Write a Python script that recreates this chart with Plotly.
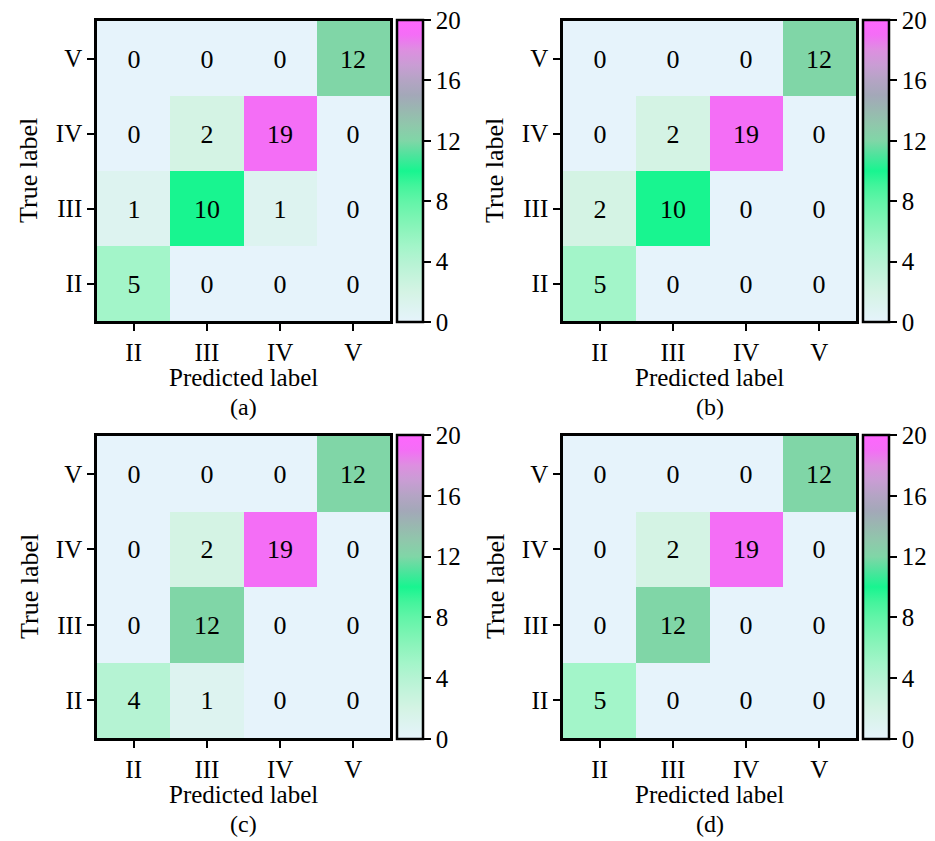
import plotly.graph_objects as go

classes = ["II", "III", "IV", "V"]
# rows: true label II, III, IV, V (bottom to top); columns: predicted II..V
cm_a = [[5, 0, 0, 0], [1, 10, 1, 0], [0, 2, 19, 0], [0, 0, 0, 12]]
cm_b = [[5, 0, 0, 0], [2, 10, 0, 0], [0, 2, 19, 0], [0, 0, 0, 12]]
cm_c = [[4, 1, 0, 0], [0, 12, 0, 0], [0, 2, 19, 0], [0, 0, 0, 12]]
cm_d = [[5, 0, 0, 0], [0, 12, 0, 0], [0, 2, 19, 0], [0, 0, 0, 12]]
panel_labels = ["(a)", "(b)", "(c)", "(d)"]
cbar_ticks = [0, 4, 8, 12, 16, 20]

anchor_colors = ["#e6f3fb", "#ddf3f0", "#d4f3e4", "#c5f3dc", "#b5f3d3", "#a3f5c9",
                 "#8ff4bd", "#79f4b2", "#62f4a8", "#44f49c", "#18f590", "#4ce49c",
                 "#80d6a7", "#8fc8ab", "#99b8b0", "#a3a8b8", "#b4a4c4", "#c99dd4",
                 "#dd8fe0", "#f46ef6", "#ff66ff"]
colorscale = [[i / 20, c] for i, c in enumerate(anchor_colors)]

W, H = 935, 841
FONT = "Liberation Serif, Times New Roman, serif"

# pixel boxes in page coordinates (left, right, top, bottom)
boxes = [(97, 390, 21, 321), (563, 856, 21, 321), (97, 390, 436, 738), (563, 856, 436, 738)]
mats = [cm_a, cm_b, cm_c, cm_d]

fig = go.Figure()
for k, (m, (l, r, t, b)) in enumerate(zip(mats, boxes)):
    xa = "x" if k == 0 else f"x{k+1}"
    ya = "y" if k == 0 else f"y{k+1}"
    fig.add_trace(go.Heatmap(
        z=m, x=classes, y=classes, xaxis=xa, yaxis=ya,
        colorscale=colorscale, zmin=0, zmax=20,
        texttemplate="%{z}", textfont=dict(family=FONT, size=26, color="black"),
        xgap=0, ygap=0, hoverinfo="skip",
        colorbar=dict(
            x=(r + 7) / W, xanchor="left", xpad=0,
            y=1 - (t + b) / 2 / H, yanchor="middle", ypad=0,
            len=(b - t + 2) / H, lenmode="fraction",
            thickness=26, thicknessmode="pixels",
            outlinewidth=2.5, outlinecolor="black",
            tickvals=cbar_ticks, ticks="outside", ticklen=7, tickwidth=2, tickcolor="black",
            tickfont=dict(family=FONT, size=25, color="black"),
            ticklabeloverflow="allow",
        ),
    ))
    axis_common = dict(showline=True, linewidth=2.5, linecolor="black", mirror=True,
                       ticks="outside", ticklen=7, tickwidth=2, tickcolor="black",
                       tickfont=dict(family=FONT, size=25, color="black"),
                       showgrid=False, zeroline=False, type="category")
    xkey = "xaxis" if k == 0 else f"xaxis{k+1}"
    ykey = "yaxis" if k == 0 else f"yaxis{k+1}"
    fig.update_layout(**{
        xkey: dict(domain=[l / W, r / W], anchor=ya, **axis_common),
        ykey: dict(domain=[1 - b / H, 1 - t / H], anchor=xa, **axis_common),
    })
    cx = (l + r) / 2
    fig.add_annotation(text="Predicted label", x=cx / W, y=1 - (b + 56) / H, xref="paper", yref="paper",
                       showarrow=False, font=dict(family=FONT, size=25, color="black"),
                       xanchor="center", yanchor="middle")
    fig.add_annotation(text=panel_labels[k], x=cx / W, y=1 - (b + 86) / H, xref="paper", yref="paper",
                       showarrow=False, font=dict(family=FONT, size=24, color="black"),
                       xanchor="center", yanchor="middle")
    fig.add_annotation(text="True label", x=(l - 68) / W, y=1 - (t + b) / 2 / H, xref="paper", yref="paper",
                       showarrow=False, textangle=-90, font=dict(family=FONT, size=26, color="black"),
                       xanchor="center", yanchor="middle")

fig.update_layout(width=W, height=H, margin=dict(l=0, r=0, t=0, b=0),
                  paper_bgcolor="white", plot_bgcolor="white", showlegend=False)
fig.write_html("out.html", config={"displayModeBar": False},
               post_script="document.body.style.margin='0';document.body.style.overflow='hidden';")
